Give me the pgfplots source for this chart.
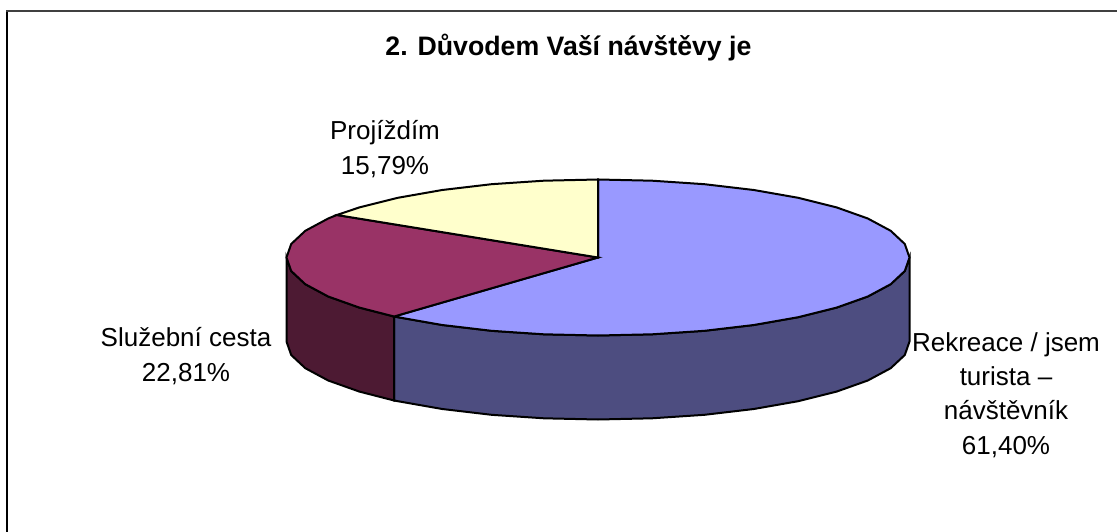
\documentclass[border=0pt]{standalone}
\usepackage{pgfplots}
\pgfplotsset{compat=1.18}
\usepackage{fontspec}
\setmainfont{Liberation Sans}
\definecolor{cA}{HTML}{9999FF}
\definecolor{cAd}{HTML}{4D4D80}
\definecolor{cB}{HTML}{993366}
\definecolor{cBd}{HTML}{4D1A33}
\definecolor{cC}{HTML}{FFFFCC}
\definecolor{topline}{HTML}{404040}
\begin{document}
\begin{tikzpicture}[x=1pt,y=1pt]
\path[use as bounding box] (0,0) rectangle (1117,532);
\begin{axis}[at={(0,0)},anchor=south west,width=1117pt,height=532pt,scale only axis,
  xmin=0,xmax=1117,ymin=0,ymax=532,y dir=reverse,hide axis,clip=false]
% frame
\addplot[black,line width=1.6pt] coordinates {(6.7,532) (6.7,11)};
\addplot[topline,line width=2pt] coordinates {(6,11) (1117,11)};
% side: Rekreace
\addplot[fill=cAd,draw=black,line width=2pt] coordinates {
(909.5,257.5)(904.8,271.0)(890.7,284.2)(867.8,296.5)(836.6,307.6)(798.2,317.2)(753.8,325.0)(704.5,330.8)(652.1,334.3)(598,335.5)(543.9,334.3)(491.5,330.8)(442.2,325.0)(397.8,317.2)(394.1,316.5)
(394.1,400.5)(397.8,401.2)(442.2,409.0)(491.5,414.8)(543.9,418.3)(598,419.5)(652.1,418.3)(704.5,414.8)(753.8,409.0)(798.2,401.2)(836.6,391.6)(867.8,380.5)(890.7,368.2)(904.8,355.0)(909.5,341.5)
} -- cycle;
% side: Sluzebni cesta
\addplot[fill=cBd,draw=black,line width=2pt] coordinates {
(394.1,316.5)(359.4,307.6)(328.2,296.5)(305.3,284.2)(291.2,271.0)(286.5,257.5)
(286.5,341.5)(291.2,355.0)(305.3,368.2)(328.2,380.5)(359.4,391.6)(394.1,400.5)
} -- cycle;
% top: Rekreace 61.40
\addplot[fill=cA,draw=black,line width=2pt] coordinates {
(598,257.5)(598,179.5)(652.1,180.7)(704.5,184.2)(753.8,190.0)(798.2,197.8)(836.6,207.4)(867.8,218.5)(890.7,230.8)(904.8,244.0)(909.5,257.5)(904.8,271.0)(890.7,284.2)(867.8,296.5)(836.6,307.6)(798.2,317.2)(753.8,325.0)(704.5,330.8)(652.1,334.3)(598,335.5)(543.9,334.3)(491.5,330.8)(442.2,325.0)(397.8,317.2)(394.1,316.5)
} -- cycle;
% top: Sluzebni cesta 22.81
\addplot[fill=cB,draw=black,line width=2pt] coordinates {
(598,257.5)(394.1,316.5)(359.4,307.6)(328.2,296.5)(305.3,284.2)(291.2,271.0)(286.5,257.5)(291.2,244.0)(305.3,230.8)(328.2,218.5)(336.8,215.0)
} -- cycle;
% top: Projizdim 15.79
\addplot[fill=cC,draw=black,line width=2pt] coordinates {
(598,257.5)(336.8,215.0)(359.4,207.4)(397.8,197.8)(442.2,190.0)(491.5,184.2)(543.9,180.7)(598,179.5)
} -- cycle;
\node[font=\fontsize{26.7}{30}\selectfont\bfseries,anchor=center] at (axis cs:568.5,48) {2. Důvodem Vaší návštěvy je};
\node[font=\fontsize{26}{34.3}\selectfont,align=center,anchor=center] at (axis cs:385,149) {Projíždím\\15,79\%};
\node[font=\fontsize{26}{34.3}\selectfont,align=center,anchor=center] at (axis cs:186,356) {Služební cesta\\22,81\%};
\node[font=\fontsize{26}{34.3}\selectfont,align=center,anchor=center] at (axis cs:1006,395) {Rekreace / jsem\\turista –\\návštěvník\\61,40\%};
\end{axis}
\end{tikzpicture}
\end{document}
